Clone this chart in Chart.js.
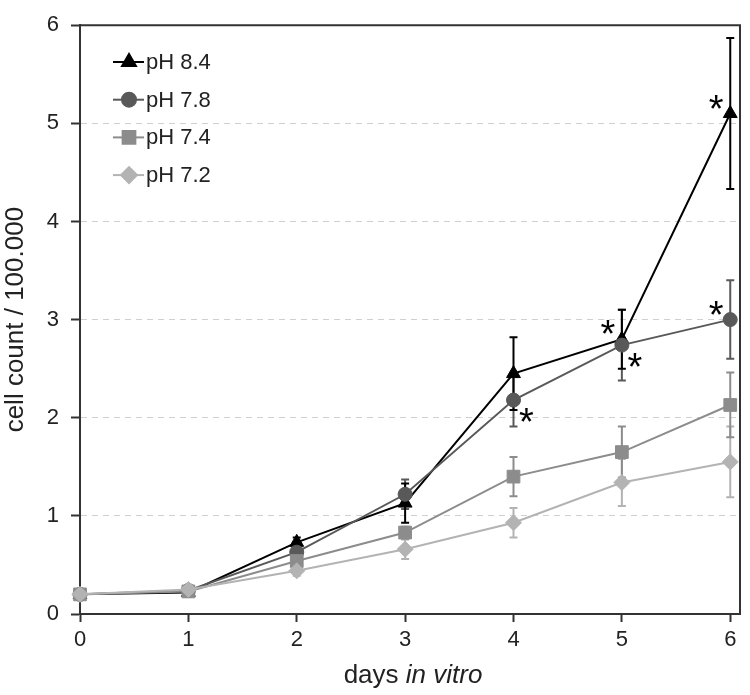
<!DOCTYPE html>
<html>
<head>
<meta charset="utf-8">
<script src="https://cdn.jsdelivr.net/npm/chart.js@4.4.0/dist/chart.umd.min.js"></script>
<style>
  body { margin: 0; background: #fff; }
  canvas { display: block; }
</style>
</head>
<body>
<canvas id="growthChart" width="750" height="695"></canvas>
<script>
// days in vitro
var days = [0, 1, 2, 3, 4, 5, 6];
var seriesNames = ['pH 8.4', 'pH 7.8', 'pH 7.4', 'pH 7.2'];

// cell count / 100.000 (mean, sd)
var ph84 = [0.20, 0.22, 0.73, 1.13, 2.45, 2.80, 5.10];
var ph84Err = [0.02, 0.03, 0.05, 0.20, 0.37, 0.30, 0.77];
var ph78 = [0.20, 0.24, 0.63, 1.22, 2.18, 2.74, 3.00];
var ph78Err = [0.02, 0.03, 0.05, 0.15, 0.27, 0.36, 0.40];
var ph74 = [0.20, 0.23, 0.54, 0.83, 1.40, 1.65, 2.13];
var ph74Err = [0.02, 0.03, 0.05, 0.06, 0.20, 0.26, 0.33];
var ph72 = [0.20, 0.25, 0.44, 0.66, 0.93, 1.34, 1.55];
var ph72Err = [0.02, 0.03, 0.05, 0.10, 0.15, 0.24, 0.36];

var yTicks = [0, 1, 2, 3, 4, 5, 6];

// significance marks: [series index, day index, side]
var stars = [[0, 5, 'left'], [0, 6, 'left'], [1, 4, 'right'], [1, 5, 'right'], [1, 6, 'left']];

var FONT = '"Liberation Sans", Arial, sans-serif';
var colors = ['#000000', '#595959', '#8c8c8c', '#b3b3b3'];
var styles = ['triangle', 'circle', 'rect', 'rectRot'];
var radii = [8, 7, 9, 8];
var values = [ph84, ph78, ph74, ph72];
var errors = [ph84Err, ph78Err, ph74Err, ph72Err];

function toPoints(arr) {
    return arr.map(function(v, i) { return { x: days[i], y: v }; });
}

var datasets = values.map(function(arr, k) {
    return {
        label: seriesNames[k],
        data: toPoints(arr),
        borderColor: colors[k],
        backgroundColor: colors[k],
        borderWidth: 2,
        pointStyle: styles[k],
        pointRadius: radii[k],
        pointBorderWidth: 1,
        tension: 0,
        clip: false,
        order: 4 - k
    };
});

var errorBars = {
    id: 'errorBars',
    beforeDatasetsDraw: function(chart) {
        var ctx = chart.ctx, xs = chart.scales.x, ys = chart.scales.y;
        ctx.save();
        ctx.lineWidth = 2;
        for (var k = values.length - 1; k >= 0; k--) {
            ctx.strokeStyle = colors[k];
            values[k].forEach(function(v, i) {
                var x = xs.getPixelForValue(days[i]);
                var top = ys.getPixelForValue(v + errors[k][i]);
                var bot = ys.getPixelForValue(v - errors[k][i]);
                ctx.beginPath();
                ctx.moveTo(x, top); ctx.lineTo(x, bot);
                ctx.moveTo(x - 4, top); ctx.lineTo(x + 4, top);
                ctx.moveTo(x - 4, bot); ctx.lineTo(x + 4, bot);
                ctx.stroke();
            });
        }
        ctx.restore();
    }
};

var extras = {
    id: 'extras',
    afterDraw: function(chart) {
        var ctx = chart.ctx, area = chart.chartArea, xs = chart.scales.x, ys = chart.scales.y;
        ctx.save();
        // frame top / right
        ctx.strokeStyle = '#333';
        ctx.lineWidth = 2;
        ctx.beginPath();
        ctx.moveTo(area.left, area.top);
        ctx.lineTo(area.right, area.top);
        ctx.lineTo(area.right, area.bottom);
        ctx.stroke();

        // asterisks
        ctx.fillStyle = '#000';
        ctx.font = '38px ' + FONT;
        ctx.textAlign = 'center';
        ctx.textBaseline = 'alphabetic';
        var m = ctx.measureText('*');
        var mid = (m.actualBoundingBoxAscent - m.actualBoundingBoxDescent) / 2;
        stars.forEach(function(s) {
            var px = xs.getPixelForValue(days[s[1]]);
            var py = ys.getPixelForValue(values[s[0]][s[1]]);
            var dx = s[2] === 'left' ? -14 : 13;
            var dy = s[2] === 'left' ? -12 : 15;
            ctx.fillText('*', px + dx, py + dy + mid);
        });

        // legend
        ctx.textAlign = 'left';
        ctx.textBaseline = 'middle';
        ctx.font = '22px ' + FONT;
        seriesNames.forEach(function(name, k) {
            var y = 62 + k * 37.7;
            ctx.strokeStyle = colors[k];
            ctx.lineWidth = 2;
            ctx.beginPath();
            ctx.moveTo(113, y); ctx.lineTo(144, y);
            ctx.stroke();
            ctx.fillStyle = colors[k];
            Chart.helpers.drawPoint(ctx, { pointStyle: styles[k], radius: radii[k], borderWidth: 1 }, 129, y);
            ctx.fillStyle = '#222';
            ctx.fillText(name, 146, y + 1);
        });

        // x axis title with italic part
        ctx.fillStyle = '#222';
        ctx.textBaseline = 'alphabetic';
        ctx.font = '26px ' + FONT;
        var a = 'days ';
        var wa = ctx.measureText(a).width;
        ctx.font = 'italic 26px ' + FONT;
        var b = 'in vitro';
        var wb = ctx.measureText(b).width;
        var x0 = (area.left + area.right) / 2 - (wa + wb) / 2 + 3;
        ctx.font = '26px ' + FONT;
        ctx.fillText(a, x0, 683);
        ctx.font = 'italic 26px ' + FONT;
        ctx.fillText(b, x0 + wa, 683);
        ctx.restore();
    }
};

new Chart(document.getElementById('growthChart'), {
    type: 'line',
    data: { datasets: datasets },
    options: {
        responsive: false,
        animation: false,
        layout: { padding: { top: 14, right: 5, left: 0, bottom: 0 } },
        plugins: { legend: { display: false }, tooltip: { enabled: false } },
        scales: {
            x: {
                type: 'linear',
                min: 0,
                max: 6.09,
                afterBuildTicks: function(scale) {
                    scale.ticks = days.map(function(d) { return { value: d }; });
                },
                afterFit: function(scale) { scale.height = 81; },
                grid: { display: true, drawOnChartArea: false, tickLength: 8, tickColor: '#333', tickWidth: 2 },
                border: { color: '#333', width: 2 },
                ticks: { color: '#222', font: { family: FONT, size: 22 }, padding: 5, maxRotation: 0 }
            },
            y: {
                min: 0,
                max: 6,
                afterBuildTicks: function(scale) {
                    scale.ticks = yTicks.map(function(v) { return { value: v }; });
                },
                afterFit: function(scale) { scale.width = 80; },
                grid: {
                    color: function(c) { return (c.tick && (c.tick.value === 0 || c.tick.value === 6)) ? 'rgba(0,0,0,0)' : '#d0d0d0'; },
                    lineWidth: 1,
                    tickBorderDash: [],
                    tickColor: '#333',
                    tickWidth: 2,
                    tickLength: 9
                },
                border: { color: '#333', width: 2, dash: [6, 5] },
                ticks: { color: '#222', font: { family: FONT, size: 22 }, padding: 12 },
                title: {
                    display: true,
                    text: 'cell count / 100.000',
                    color: '#222',
                    font: { family: FONT, size: 26 },
                    padding: { top: 0, bottom: 0 }
                }
            }
        }
    },
    plugins: [errorBars, extras]
});
</script>
</body>
</html>
